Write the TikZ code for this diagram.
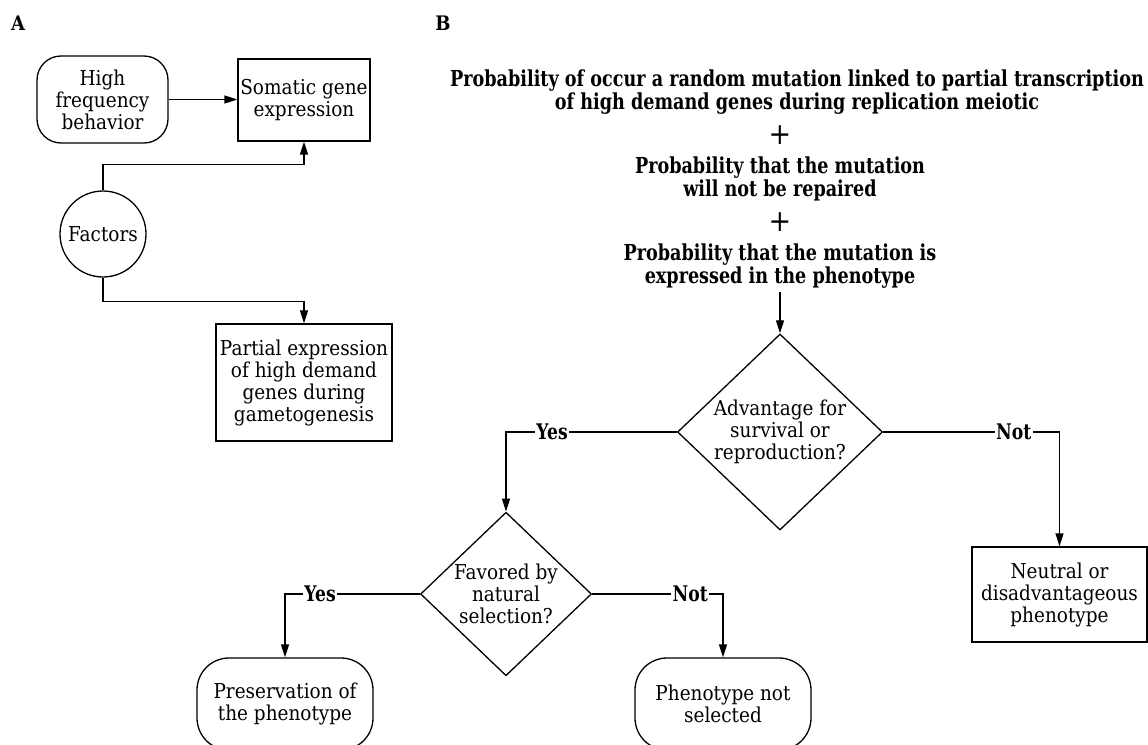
\documentclass[tikz,border=0pt]{standalone}
\usepackage{fontspec}
\setmainfont{DejaVu Serif}[FakeStretch=0.9]
\newfontfamily\headfont{DejaVu Serif}[FakeStretch=0.8]
\usetikzlibrary{shapes.misc, shapes.geometric, arrows.meta}

\tikzset{
  txt/.style={font=\fontsize{20.5}{22}\selectfont, align=center},
  bold/.style={font=\headfont\bfseries\fontsize{22}{22.5}\selectfont, align=center},
  box/.style={txt, draw, line width=1.3pt, inner sep=0pt},
  pill/.style={box, rounded corners=#1},
  ask/.style={txt, draw, diamond, line width=1.3pt, inner sep=0pt},
  arr/.style={line width=1.3pt, -{Triangle[length=13pt, width=8pt]}},
  lbl/.style={font=\headfont\bfseries\fontsize{21.5}{22}\selectfont, fill=white, inner sep=1.5pt},
  panel/.style={font=\bfseries\fontsize{20}{20}\selectfont}
}

\begin{document}
\begin{tikzpicture}[x=1pt, y=-1pt]
  \useasboundingbox (0,0) rectangle (1148,744);

  % Panel letters
  \node[panel] (lblA) at (18,23) {A};
  \node[panel] (lblB) at (443,23) {B};

  % Panel A
  \node[pill=24pt, minimum width=131pt, minimum height=87pt] (hfb) at (102.5,99.5)
    {High\\frequency\\behavior};
  \node[box, minimum width=132pt, minimum height=82pt] (soma) at (304,100)
    {Somatic gene\\expression};
  \node[box, circle, minimum size=86pt] (factors) at (103,234) {Factors};
  \node[box, minimum width=176pt, minimum height=117pt] (partial) at (304,382.5)
    {Partial expression\\of high demand\\genes during\\gametogenesis};

  \draw[arr] (hfb.east) -- (hfb.east -| soma.west);
  \draw[arr] (factors.north) -- ++(0,-26) -| (soma.south);
  \draw[arr] (factors.south) -- ++(0,24) -| (partial.north);

  % Panel B, probabilities
  \node[bold] (prob1) at (797,92)
    {Probability of occur a random mutation linked to partial transcription\\
     of high demand genes during replication meiotic};
  \node[txt, font=\fontsize{30}{30}\selectfont] (plus1) at (780,135) {+};
  \node[bold] (prob2) at (780,179) {Probability that the mutation\\will not be repaired};
  \node[txt, font=\fontsize{30}{30}\selectfont] (plus2) at (780,222) {+};
  \node[bold] (prob3) at (780,266) {Probability that the mutation is\\expressed in the phenotype};

  % Decisions
  \node[ask, minimum width=205pt, minimum height=193pt] (adv) at (780,432)
    {Advantage for\\survival or\\reproduction?};
  \node[ask, minimum width=171pt, minimum height=159pt] (favor) at (506,594)
    {Favored by\\natural\\selection?};

  % Outcomes
  \node[box, minimum width=175pt, minimum height=95pt] (neutral) at (1059.5,594.5)
    {Neutral or\\disadvantageous\\phenotype};
  \node[pill=32pt, minimum width=176pt, minimum height=92pt] (keep) at (285,704)
    {Preservation of\\the phenotype};
  \node[pill=32pt, minimum width=176pt, minimum height=92pt] (drop) at (723,704)
    {Phenotype not\\selected};

  \draw[arr] (prob3.south) -- (adv.north);
  \draw[arr] (adv.west) -| node[lbl, pos=0.365] {Yes} (favor.north);
  \draw[arr] (adv.east) -| node[lbl, pos=0.37] {Not} (neutral.north);
  \draw[arr] (favor.west) -| node[lbl, pos=0.37] {Yes} (keep.north);
  \draw[arr] (favor.east) -| node[lbl, pos=0.375] {Not} (drop.north);
\end{tikzpicture}
\end{document}
